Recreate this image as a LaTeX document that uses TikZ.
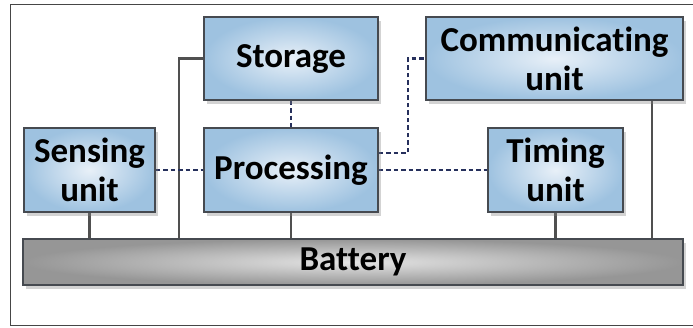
\documentclass[tikz,border=0pt]{standalone}
\usepackage{fontspec}
\setmainfont{Carlito}[Ligatures=NoCommon]
\usetikzlibrary{shadows,backgrounds}
\definecolor{boxedge}{RGB}{70,74,80}
\definecolor{boxout}{RGB}{158,194,224}
\definecolor{boxin}{RGB}{232,240,248}
\definecolor{batout}{RGB}{150,150,150}
\definecolor{batin}{RGB}{228,228,228}
\definecolor{wire}{RGB}{80,80,80}
\definecolor{signal}{RGB}{38,48,92}
\definecolor{frame}{RGB}{70,70,70}
\tikzset{
  unitbox/.style={draw=boxedge, line width=1.2pt, inner color=boxin, outer color=boxout,
    drop shadow={shadow xshift=3pt, shadow yshift=-4pt, opacity=0.35},
    align=center, font=\fontsize{35}{39}\selectfont\bfseries, inner sep=0pt},
  batbox/.style={draw=boxedge, line width=1.2pt, inner color=batin, outer color=batout,
    drop shadow={shadow xshift=3pt, shadow yshift=-4pt, opacity=0.35},
    font=\fontsize{35}{39}\selectfont\bfseries, inner sep=0pt},
  power/.style={draw=wire, line width=2.6pt},
  datalink/.style={draw=signal, line width=2.6pt, dash pattern=on 4.5pt off 3pt}
}
\begin{document}
\begin{tikzpicture}[x=1pt,y=-1pt]
\useasboundingbox (0,0) rectangle (693,327);

% units
\node[unitbox, minimum width=174pt, minimum height=83pt] (storage) at (291,58.5) {Storage};
\node[unitbox, minimum width=257pt, minimum height=83pt] (comm) at (554.5,58.5) {Communicating\\unit};
\node[unitbox, minimum width=131pt, minimum height=84pt] (sensing) at (89.5,170) {Sensing\\unit};
\node[unitbox, minimum width=174pt, minimum height=84pt] (proc) at (291,170) {Processing};
\node[unitbox, minimum width=135pt, minimum height=84pt] (timing) at (555.5,170) {Timing\\unit};
\node[batbox, minimum width=660pt, minimum height=46pt] (battery) at (353,262) {Battery};

% helper coordinates for the vertical runs
\coordinate (vs) at (179,0);
\coordinate (vc) at (652,0);
\coordinate (vd) at (408,0);

\begin{scope}[on background layer]
  \draw[frame, line width=1pt] (693,4) -- (10,4) -- (10,325) -- (693,325);
  % power lines to the battery
  \draw[power] (storage.west) -| (vs |- battery.north);
  \draw[power] (sensing.south) -- (sensing.south |- battery.north);
  \draw[power] (proc.south) -- (proc.south |- battery.north);
  \draw[power] (timing.south) -- (timing.south |- battery.north);
  \draw[power] (vc |- comm.south) -- (vc |- battery.north);
  % data links
  \draw[datalink] (storage.south) -- (proc.north);
  \draw[datalink] (sensing.east) -- (proc.west);
  \draw[datalink] (proc.east) -- (timing.west);
  \draw[datalink] ([yshift=17pt]proc.east) -| (vd |- comm.west) -- (comm.west);
\end{scope}
\end{tikzpicture}
\end{document}
